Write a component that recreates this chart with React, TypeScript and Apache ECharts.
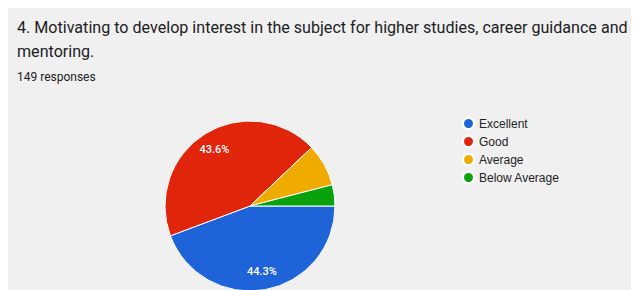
import React, { useEffect, useRef } from "react";
import * as echarts from "echarts";

const categories = ["Excellent", "Good", "Average", "Below Average"];
const counts = [66, 65, 12, 6];
const colors = ["#1f63d8", "#e0250b", "#f0ab00", "#0aa20c"];
const titleLines = [
  "4. Motivating to develop interest in the subject for higher studies, career guidance and",
  "mentoring.",
];
const responsesText = "149 responses";

export default function App() {
  const ref = useRef<HTMLDivElement>(null);
  useEffect(() => {
    if (!ref.current) return;
    const chart = echarts.init(ref.current, undefined, { renderer: "svg" });
    const data = categories.map((name, i) => ({
      name,
      value: counts[i],
      itemStyle: { color: colors[i] },
    }));
    const total = counts.reduce((a, b) => a + b, 0);
    chart.setOption({
      animation: false,
      backgroundColor: "#f0f0f0",
      graphic: [
        {
          type: "text",
          x: 9,
          y: 19.5,
          style: {
            text: titleLines[0],
            font: "16.1px Roboto",
            fill: "#202124",
            verticalAlign: "middle",
          },
        },
        {
          type: "text",
          x: 9,
          y: 43,
          style: {
            text: titleLines[1],
            font: "16.1px Roboto",
            fill: "#202124",
            verticalAlign: "middle",
          },
        },
        {
          type: "text",
          x: 9,
          y: 68.5,
          style: {
            text: responsesText,
            font: "12px Roboto",
            fill: "#202124",
            verticalAlign: "middle",
          },
        },
      ],
      legend: {
        orient: "vertical",
        left: 454,
        top: 109,
        padding: 0,
        icon: "circle",
        itemWidth: 11,
        itemHeight: 11,
        itemGap: 5,
        textStyle: { fontFamily: "Liberation Sans, Arial", fontSize: 12, color: "#222" },
        data: categories,
      },
      series: [
        {
          type: "pie",
          center: [242, 198],
          radius: 85,
          startAngle: 0,
          clockwise: true,
          data,
          label: { show: false },
          labelLine: { show: false },
          itemStyle: { borderColor: "#ffffff", borderWidth: 1 },
          silent: true,
        },
        {
          type: "pie",
          center: [242, 198],
          radius: [43, 85],
          startAngle: 0,
          clockwise: true,
          data: categories.map((name, i) => ({ name, value: counts[i] })),
          itemStyle: { color: "transparent", borderWidth: 0 },
          labelLine: { show: false },
          label: {
            show: true,
            position: "inside",
            color: "#ffffff",
            fontFamily: "Roboto",
            fontWeight: 500,
            fontSize: 11,
            formatter: (p: any) =>
              p.value / total > 0.2 ? ((p.value / total) * 100).toFixed(1) + "%" : "",
          },
          silent: true,
        },
      ],
    });
    return () => chart.dispose();
  }, []);
  return <div ref={ref} style={{ width: 631, height: 282 }} />;
}
